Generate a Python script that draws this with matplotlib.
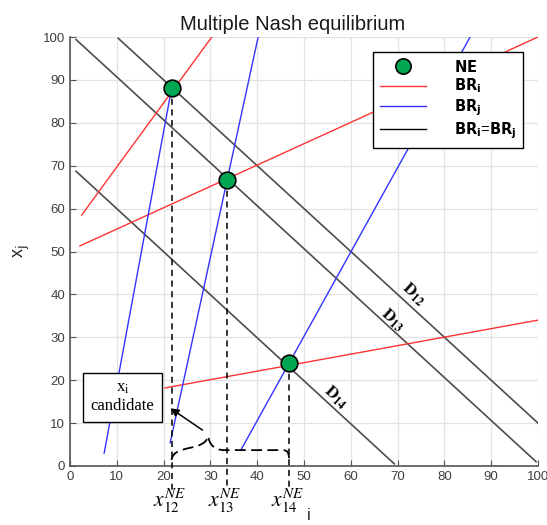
import numpy as np
import matplotlib
matplotlib.use('Agg')
import matplotlib.pyplot as plt
from matplotlib.path import Path
from matplotlib.patches import PathPatch
from matplotlib.lines import Line2D

plt.rcParams['font.family'] = ['Liberation Sans', 'DejaVu Sans']

# Nash equilibria
ne_x = [21.7, 33.5, 46.8]
ne_y = [88.0, 66.7, 24.0]
ne_labels = [r'$x_{12}^{NE}$', r'$x_{13}^{NE}$', r'$x_{14}^{NE}$']

# best response of i (red) segments: [x0, x1], [y0, y1]
br_i_x = [[2.5, 30.3], [2.1, 100.0], [20.3, 100.0]]
br_i_y = [[58.5, 100.0], [51.3, 100.0], [18.2, 34.0]]

# best response of j (blue)
br_j_x = [[7.3, 21.7], [21.4, 40.2], [36.5, 85.5]]
br_j_y = [[3.0, 88.0], [5.4, 100.0], [3.7, 100.0]]

# BR_i = BR_j lines (D12, D13, D14)
d_x = [[10.3, 100.0], [1.3, 99.6], [1.3, 69.3]]
d_y = [[99.7, 10.0], [99.4, 1.0], [68.7, 0.5]]
d_names = [r'$\mathbf{D}_{\mathbf{12}}$', r'$\mathbf{D}_{\mathbf{13}}$', r'$\mathbf{D}_{\mathbf{14}}$']
d_label_pos = [(73.3, 40.0), (68.8, 34.0), (56.8, 16.0)]

ticks = np.arange(0, 101, 10)

fig = plt.figure(figsize=(5.47, 5.25), dpi=100)
ax = fig.add_axes([0.128, 0.1124, 0.8555, 0.8171])

for s in ['top', 'right']:
    ax.spines[s].set_visible(False)
for s in ['left', 'bottom']:
    ax.spines[s].set_color('#555555')
    ax.spines[s].set_linewidth(1.2)
ax.set_xlim(0, 100)
ax.set_ylim(0, 100)
ax.set_xticks(ticks)
ax.set_yticks(ticks)
ax.tick_params(direction='in', length=4, labelsize=9.5, colors='#555555', labelcolor='#404040')
ax.grid(True, color='#e3e3e3', linewidth=0.9)
ax.set_axisbelow(True)

for xs, ys in zip(d_x, d_y):
    ax.plot(xs, ys, color='#4d4d4d', lw=1.2)
for xs, ys in zip(br_i_x, br_i_y):
    ax.plot(xs, ys, color='#ff3333', lw=1.0)
for xs, ys in zip(br_j_x, br_j_y):
    ax.plot(xs, ys, color='#3333ff', lw=1.0)

# dashed drop lines from the equilibria
for x, y in zip(ne_x, ne_y):
    ax.plot([x, x], [y, -5.6], color='black', ls=(0, (4, 3)), lw=1.1, clip_on=False, zorder=3)

ax.plot(ne_x, ne_y, 'o', ms=12, mfc='#00a651', mec='black', mew=1.2, zorder=5, clip_on=False)

for (tx, ty), name in zip(d_label_pos, d_names):
    ax.text(tx, ty, name, rotation=-42, ha='center', va='center', fontsize=12,
            math_fontfamily='stix')

for x, lab in zip(ne_x, ne_labels):
    ax.text(x - 0.4, -8.0, lab, ha='center', va='center', fontsize=15.5,
            math_fontfamily='stix', clip_on=False)

# curly brace between first and last equilibrium
x0, x1 = ne_x[0], ne_x[-1]
tip = 29.5
yb, ye, yt = 3.7, 1.4, 7.0
verts = [(x0, ye),
         (x0 + 0.2, yb - 0.5), (x0 + 1.8, yb), (x0 + 3.8, yb + 0.5),
         (tip - 2.0, yb + 1.0), (tip - 0.3, yb + 1.5), (tip, yt),
         (tip + 0.3, yb + 1.3), (tip + 1.3, yb), (tip + 3.5, yb),
         (x1 - 1.5, yb),
         (x1 - 0.3, yb), (x1, yb - 0.5), (x1, ye)]
codes = [Path.MOVETO,
         Path.CURVE4, Path.CURVE4, Path.CURVE4,
         Path.CURVE4, Path.CURVE4, Path.CURVE4,
         Path.CURVE4, Path.CURVE4, Path.CURVE4,
         Path.LINETO,
         Path.CURVE4, Path.CURVE4, Path.CURVE4]
ax.add_patch(PathPatch(Path(verts, codes), fill=False, ec='black', lw=1.3,
                       ls=(0, (6, 3)), zorder=4))

ax.annotate('', xy=(21.0, 13.8), xytext=(28.8, 8.0),
            arrowprops=dict(arrowstyle='-|>', color='black', lw=1.1, mutation_scale=12), zorder=6)

ax.text(11.2, 16.0, 'x$_\\mathrm{i}$\ncandidate', ha='center', va='center', fontsize=12,
        family='Liberation Serif', math_fontfamily='stix', linespacing=1.15, zorder=7,
        bbox=dict(boxstyle='square,pad=0.45', fc='white', ec='black', lw=1.0))

ax.set_title('Multiple Nash equilibrium', fontsize=14.5, color='#1a1a1a', pad=5, x=0.475)
ax.set_ylabel('x$_\\mathrm{j}$', fontsize=13, color='#262626', labelpad=8, math_fontfamily='dejavusans')
ax.text(51.0, -11.5, 'i', fontsize=12, color='#262626', ha='center', va='center', clip_on=False)

handles = [
    Line2D([], [], ls='none', marker='o', ms=11, mfc='#00a651', mec='black', mew=1.2),
    Line2D([], [], color='#ff3333', lw=1.0),
    Line2D([], [], color='#3333ff', lw=1.0),
    Line2D([], [], color='black', lw=1.0),
]
labels = [r'$\mathbf{NE}$', r'$\mathbf{BR_i}$', r'$\mathbf{BR_j}$', r'$\mathbf{BR_i}$=$\mathbf{BR_j}$']
leg = ax.legend(handles, labels, loc='upper right', bbox_to_anchor=(0.968, 0.965),
                fancybox=False, edgecolor='black', framealpha=1, fontsize=10.5,
                handlelength=3.2, borderpad=0.45, labelspacing=0.15, handletextpad=1.9,
                borderaxespad=0)
leg.get_frame().set_linewidth(1.0)

fig.savefig('out.png', dpi=100)
